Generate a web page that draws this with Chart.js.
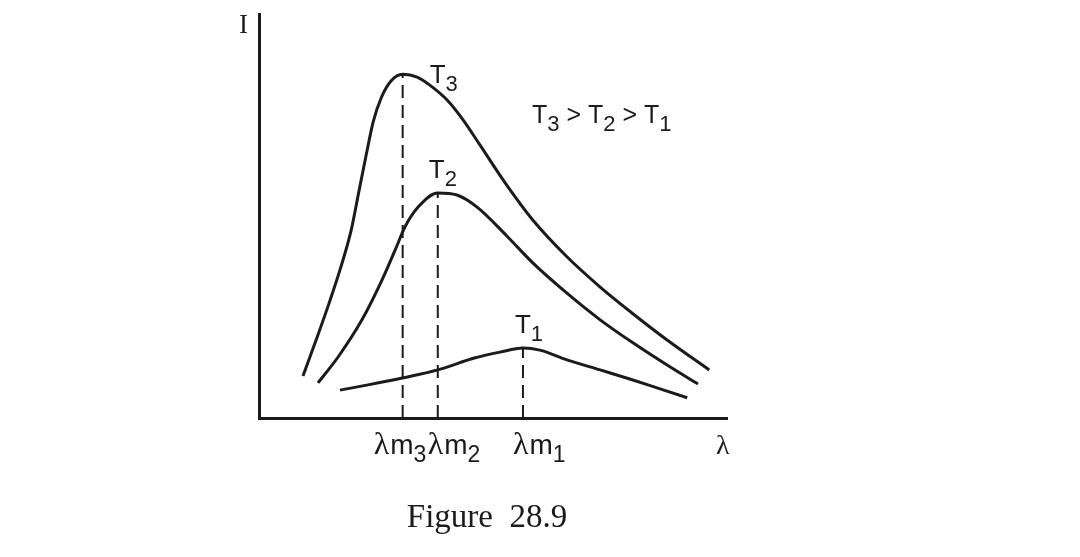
<!DOCTYPE html>
<html>
<head>
<meta charset="utf-8">
<title>Figure 28.9</title>
<script src="https://cdn.jsdelivr.net/npm/chart.js@4.4.1/dist/chart.umd.min.js"></script>
<style>
  html, body { margin: 0; padding: 0; background: #fff; }
  #wrap { width: 1080px; height: 557px; }
</style>
</head>
<body>
<div id="wrap"><canvas id="chart" width="1080" height="557"></canvas></div>
<script>
// wavelength (arbitrary units, 0..10) and intensity (arbitrary units, 0..10)
const lambdaT3 = [0.94, 1.22, 1.50, 1.75, 1.97, 2.14, 2.29, 2.44, 2.61, 2.82, 3.07, 3.38, 3.65, 4.02, 4.36, 4.72, 5.26, 5.85, 6.58, 7.29, 7.99, 8.72, 9.62];
const intensityT3 = [1.04, 1.93, 2.85, 3.74, 4.65, 5.64, 6.51, 7.33, 7.92, 8.34, 8.51, 8.44, 8.24, 7.87, 7.38, 6.76, 5.82, 4.90, 3.99, 3.24, 2.58, 1.93, 1.19];

const lambdaT2 = [1.26, 1.69, 2.20, 2.63, 2.91, 3.12, 3.40, 3.82, 4.23, 4.66, 5.30, 5.85, 6.58, 7.29, 7.99, 8.72, 9.38];
const intensityT2 = [0.87, 1.51, 2.43, 3.42, 4.16, 4.73, 5.22, 5.57, 5.52, 5.22, 4.50, 3.84, 3.09, 2.43, 1.86, 1.31, 0.84];

const lambdaT1 = [1.73, 2.33, 3.06, 3.82, 4.62, 5.15, 5.64, 6.00, 6.58, 7.29, 7.99, 8.57, 9.15];
const intensityT1 = [0.69, 0.82, 0.99, 1.19, 1.49, 1.63, 1.73, 1.68, 1.44, 1.19, 0.94, 0.72, 0.50];

const curveNames = ['T3', 'T2', 'T1'];
const curveSubs = ['3', '2', '1'];

const INK = '#1b1b1b';
const SANS = '"Liberation Sans", Arial, sans-serif';
const SERIF = '"Liberation Serif", "DejaVu Serif", serif';

const toPoints = (xs, ys) => xs.map((x, i) => ({ x, y: ys[i] }));

const curves = [
  toPoints(lambdaT3, intensityT3),
  toPoints(lambdaT2, intensityT2),
  toPoints(lambdaT1, intensityT1),
];

// peak of each curve -> lambda max
const peaks = curves.map(pts => pts.reduce((a, b) => (b.y > a.y ? b : a)));

const curveSets = curves.map((pts, i) => ({
  label: curveNames[i],
  data: pts,
  borderColor: INK,
  borderWidth: 3,
  pointRadius: 0,
  fill: false,
  cubicInterpolationMode: 'monotone',
}));

const dropSets = peaks.map((p, i) => ({
  label: 'λm' + curveSubs[i],
  data: [{ x: p.x, y: 0 }, { x: p.x, y: p.y }],
  borderColor: INK,
  borderWidth: 2,
  borderDash: [13, 7],
  pointRadius: 0,
  fill: false,
}));

// text with a lowered subscript, returns the width used
const subText = (ctx, base, sub, x, y, font, size, subSize, drop) => {
  ctx.font = `${size}px ${font}`;
  ctx.fillText(base, x, y);
  let w = ctx.measureText(base).width;
  ctx.font = `${subSize}px ${SANS}`;
  ctx.fillText(sub, x + w, y + drop);
  return w + ctx.measureText(sub).width;
};

const annotate = {
  id: 'annotate',
  afterDraw(chart) {
    const { ctx, chartArea, scales: { x, y } } = chart;
    ctx.save();
    ctx.fillStyle = INK;
    ctx.textBaseline = 'alphabetic';
    ctx.textAlign = 'left';

    // axis names
    ctx.font = `27px ${SERIF}`;
    ctx.fillText('I', chartArea.left - 20, chartArea.top + 19);
    ctx.font = `28px ${SERIF}`;
    ctx.fillText('λ', chartArea.right - 11, chartArea.bottom + 36);

    // curve labels near the peaks
    const offs = [[27, 9], [-9, -15], [-8, -15]];
    peaks.forEach((p, i) => {
      const px = x.getPixelForValue(p.x) + offs[i][0];
      const py = y.getPixelForValue(p.y) + offs[i][1];
      subText(ctx, 'T', curveSubs[i], px, py, SANS, 26, 22, 8);
    });

    // T3 > T2 > T1
    let cx = chartArea.left + 273;
    const cy = chartArea.top + 109;
    curveSubs.forEach((s, i) => {
      cx += subText(ctx, 'T', s, cx, cy, SANS, 25, 22, 8);
      if (i < curveSubs.length - 1) {
        ctx.font = `25px ${SANS}`;
        ctx.fillText(' > ', cx, cy);
        cx += ctx.measureText(' > ').width;
      }
    });

    // lambda max tick labels
    const tickOffs = [-29, -10, -10];
    peaks.forEach((p, i) => {
      let tx = x.getPixelForValue(p.x) + tickOffs[i];
      const ty = chartArea.bottom + 36;
      ctx.font = `32px ${SERIF}`;
      ctx.fillText('λ', tx, ty);
      tx += ctx.measureText('λ').width + 1;
      subText(ctx, 'm', curveSubs[i], tx, ty, SANS, 28, 23, 8);
    });

    // caption
    ctx.textAlign = 'center';
    ctx.font = `33px ${SERIF}`;
    ctx.fillText('Figure  28.9', 487, 527);
    ctx.restore();
  }
};

new Chart(document.getElementById('chart'), {
  type: 'line',
  data: { datasets: [...curveSets, ...dropSets] },
  options: {
    responsive: false,
    animation: false,
    layout: { padding: { left: 259, right: 353, top: 14, bottom: 139 } },
    plugins: { legend: { display: false }, tooltip: { enabled: false }, title: { display: false } },
    scales: {
      x: {
        type: 'linear', min: 0, max: 10,
        grid: { display: false, drawTicks: false },
        ticks: { display: false },
        border: { display: true, color: INK, width: 3 },
      },
      y: {
        type: 'linear', min: 0, max: 10,
        grid: { display: false, drawTicks: false },
        ticks: { display: false },
        border: { display: true, color: INK, width: 3 },
      },
    },
  },
  plugins: [annotate],
});
</script>
</body>
</html>
